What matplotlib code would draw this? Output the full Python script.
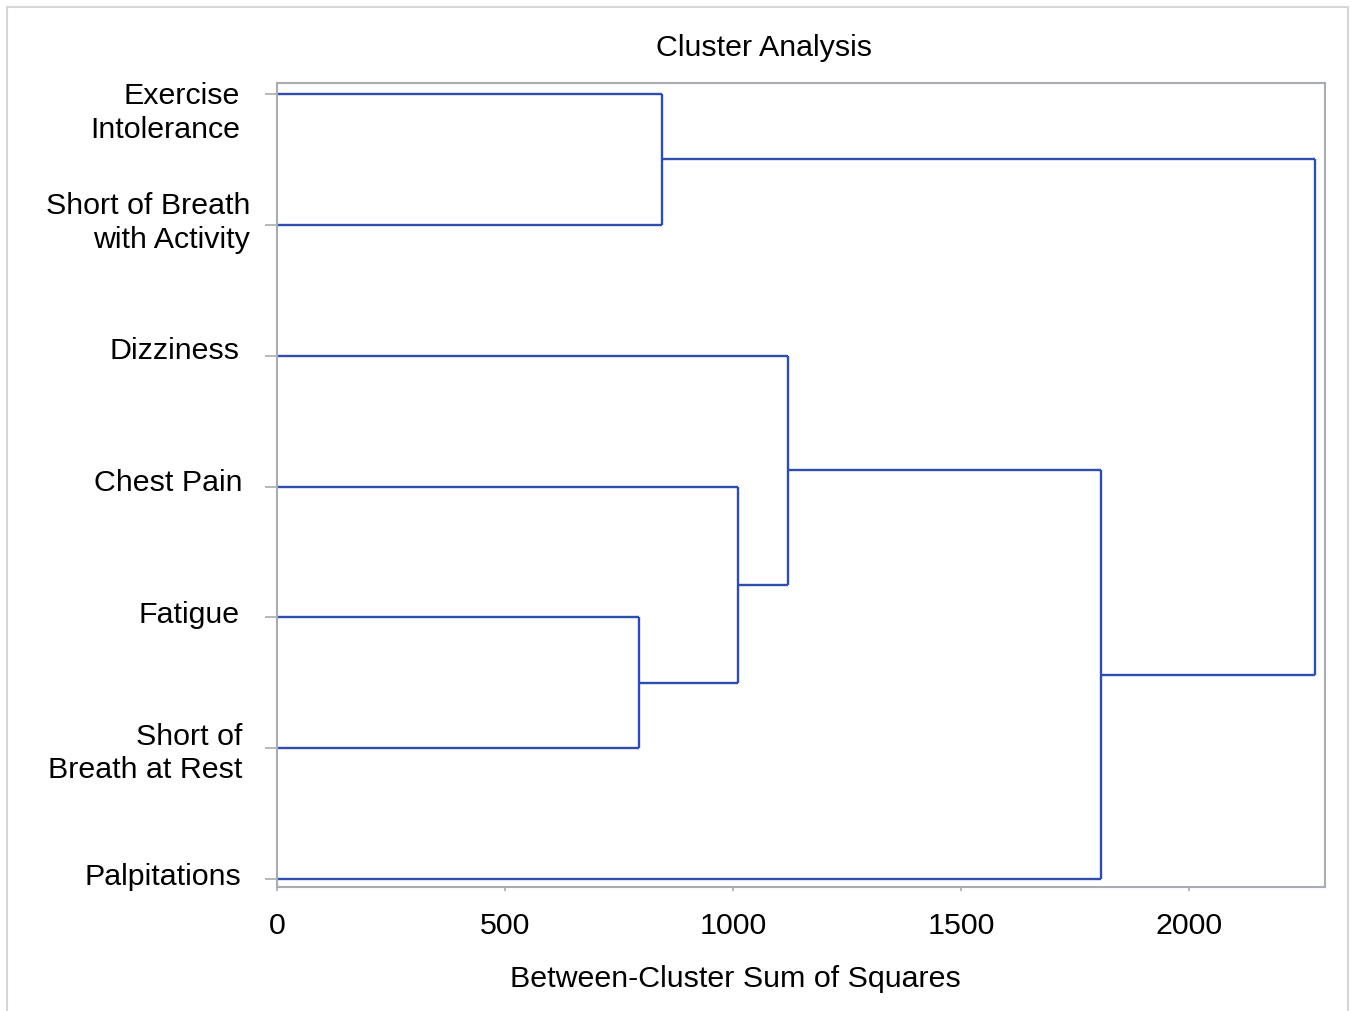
import matplotlib
matplotlib.use("Agg")
import matplotlib.pyplot as plt
from matplotlib.lines import Line2D

plt.rcParams['font.family'] = ['Liberation Sans', 'DejaVu Sans']

# ---- data ----
leaf_labels = ['Exercise\nIntolerance', 'Short of Breath\nwith Activity', 'Dizziness',
               'Chest Pain', 'Fatigue', 'Short of\nBreath at Rest', 'Palpitations']
# merges: (left child, right child, height); nodes 0-6 leaves, 7+ clusters
merge_left = [0, 4, 3, 2, 10, 7]
merge_right = [1, 5, 8, 9, 6, 11]
merge_height = [844, 794, 1011, 1121, 1807, 2276]
x_ticks = [0, 500, 1000, 1500, 2000]
title = 'Cluster Analysis'
xlabel = 'Between-Cluster Sum of Squares'

# label placement tweaks (pixels): right-edge offset and last-line baseline offset
label_dx = [-37, -27, -38, -35, -37, -35, -36]
label_dy = [-44, -23, -3, -4, -6, -30, -6]

W, H = 1357, 1011
FS = 21.9
fig = plt.figure(figsize=(W / 100, H / 100), dpi=100)
ax = fig.add_axes([277 / W, 1 - 887 / H, (1325 - 277) / W, (887 - 83) / H])

color = '#2D4EB0'
lw = 1.7
n = len(leaf_labels)
pos = {i: float(i) for i in range(n)}
hgt = {i: 0.0 for i in range(n)}
parent_h = {}
for k, (a, b, h) in enumerate(zip(merge_left, merge_right, merge_height)):
    node = n + k
    pos[node] = (pos[a] + pos[b]) / 2
    hgt[node] = h
    parent_h[a] = h
    parent_h[b] = h
    ax.plot([h, h], [pos[a], pos[b]], color=color, lw=lw, solid_capstyle='butt', clip_on=False)
for node, ph in parent_h.items():
    ax.plot([hgt[node], ph], [pos[node], pos[node]], color=color, lw=lw,
            solid_capstyle='butt', clip_on=False)

ax.set_xlim(0, 2298)
ax.set_ylim(n - 1 + 0.06, -0.084)
ax.set_xticks(x_ticks)
ax.set_xticklabels([str(t) for t in x_ticks], fontsize=FS)
ax.set_yticks(range(n))
ax.set_yticklabels([''] * n)

spine_c = '#A9ACB0'
for s in ax.spines.values():
    s.set_color(spine_c)
    s.set_linewidth(1.5)
ax.tick_params(axis='x', length=3, width=1.2, color=spine_c, pad=15)
ax.tick_params(axis='y', length=8.6, width=1.2, color=spine_c)

for i, lab in enumerate(leaf_labels):
    ax.annotate(lab, xy=(0, i), xycoords=ax.get_yaxis_transform(),
                xytext=(label_dx[i], label_dy[i]), textcoords='offset pixels',
                ha='right', va='baseline', fontsize=FS, multialignment='right',
                linespacing=1.25)

fig.text(764 / W, 1 - 56 / H, title, ha='center', va='baseline', fontsize=FS)
fig.text(735 / W, 1 - 987 / H, xlabel, ha='center', va='baseline', fontsize=FS)

bc = '#D6D6D6'
fig.add_artist(Line2D([7 / W, 7 / W], [0, 1 - 7 / H], color=bc, lw=1.5))
fig.add_artist(Line2D([7 / W, 1348 / W], [1 - 7 / H, 1 - 7 / H], color=bc, lw=1.5))
fig.add_artist(Line2D([1348 / W, 1348 / W], [0, 1 - 7 / H], color=bc, lw=1.5))

fig.savefig('out.png', dpi=100)
